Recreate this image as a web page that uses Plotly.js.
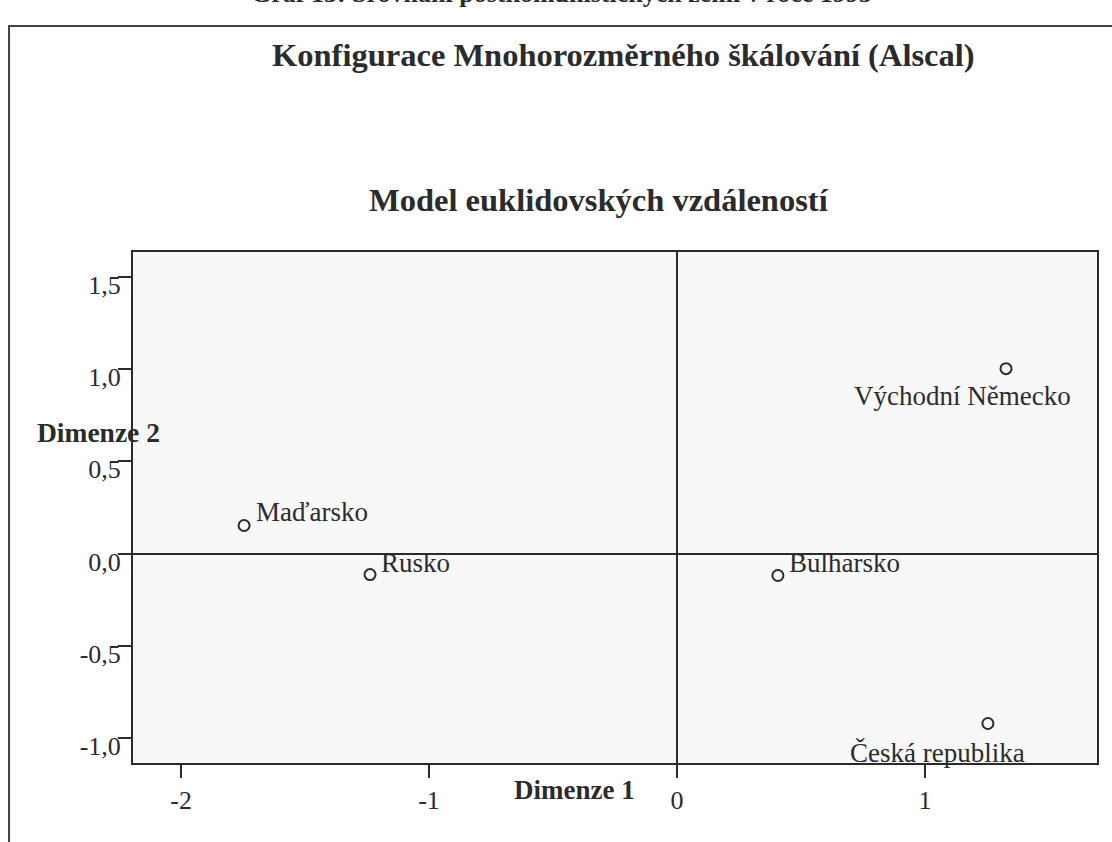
<!DOCTYPE html>
<html>
<head>
<meta charset="utf-8">
<script src="https://cdn.plot.ly/plotly-3.0.1.min.js"></script>
<style>html,body{margin:0;padding:0;background:#fff;}#chart{width:1112px;height:842px;}</style>
</head>
<body>
<div id="chart"></div>
<script>
// Data
const countries = ["Maďarsko", "Rusko", "Bulharsko", "Východní Německo", "Česká republika"];
const dim1 = [-1.746, -1.238, 0.407, 1.327, 1.254];
const dim2 = [0.152, -0.114, -0.119, 1.002, -0.921];
const xTickVals = [-2, -1, 0, 1];
const xTickText = ["-2", "-1", "0", "1"];
const yTickVals = [1.5, 1.0, 0.5, 0.0, -0.5, -1.0];
const yTickText = ["1,5", "1,0", "0,5", "0,0", "-0,5", "-1,0"];

const serif = "Liberation Serif, Times New Roman, serif";
const ink = "#2b2b2b";

// label placement style (per label, offsets in px)
const labelStyle = [
  {xanchor: "left", xshift: 10, yshift: 13},
  {xanchor: "left", xshift: 9, yshift: 12},
  {xanchor: "left", xshift: 9, yshift: 13},
  {xanchor: "center", xshift: -44, yshift: -27},
  {xanchor: "center", xshift: -50, yshift: -29}
];

const trace = {
  x: dim1, y: dim2, mode: "markers", type: "scatter",
  marker: {symbol: "circle-open", size: 11, color: ink, line: {width: 2, color: ink}},
  hoverinfo: "skip", showlegend: false
};

const annotations = countries.map((c, i) => ({
  x: dim1[i], y: dim2[i], xref: "x", yref: "y", text: c, showarrow: false,
  xanchor: labelStyle[i].xanchor, yanchor: "middle",
  xshift: labelStyle[i].xshift, yshift: labelStyle[i].yshift,
  font: {family: serif, size: 27, color: ink}
}));

annotations.push(
  {xref: "paper", yref: "paper", x: 0.509, y: 1.3855, text: "<b>Konfigurace Mnohorozměrného škálování (Alscal)</b>",
   showarrow: false, xanchor: "center", yanchor: "middle", font: {family: serif, size: 32.5, color: ink}},
  {xref: "paper", yref: "paper", x: 0.4834, y: 1.1018, text: "<b>Model euklidovských vzdáleností</b>",
   showarrow: false, xanchor: "center", yanchor: "middle", font: {family: serif, size: 32.5, color: ink}},
  {xref: "paper", yref: "paper", x: -0.0353, y: 0.6477, text: "<b>Dimenze 2</b>",
   showarrow: false, xanchor: "center", yanchor: "middle", font: {family: serif, size: 27.5, color: ink}},
  {xref: "paper", yref: "paper", x: 0.4575, y: -0.0528, text: "<b>Dimenze 1</b>",
   showarrow: false, xanchor: "center", yanchor: "middle", font: {family: serif, size: 27, color: ink}},
  {xref: "paper", yref: "paper", x: 0.444, y: 1.505, text: "<b>Graf 13: Srovnání postkomunistických zemí v roce 1995</b>",
   showarrow: false, xanchor: "center", yanchor: "middle", font: {family: serif, size: 26, color: ink}}
);

const layout = {
  width: 1112, height: 842,
  margin: {l: 133, r: 15, t: 252, b: 79},
  paper_bgcolor: "#ffffff", plot_bgcolor: "#f8f8f8",
  separators: ",.",
  xaxis: {
    range: [-2.194, 1.694], tickvals: xTickVals, ticktext: xTickText,
    ticks: "outside", ticklen: 13, tickwidth: 2, tickcolor: ink,
    showline: true, mirror: true, linecolor: ink, linewidth: 2,
    showgrid: false, zeroline: true, zerolinecolor: ink, zerolinewidth: 2,
    tickfont: {family: serif, size: 26, color: ink}
  },
  yaxis: {
    range: [-1.135, 1.634], tickvals: yTickVals, ticktext: yTickText,
    ticks: "outside", ticklen: 13, tickwidth: 2, tickcolor: ink,
    showline: true, mirror: true, linecolor: ink, linewidth: 2,
    showgrid: false, zeroline: true, zerolinecolor: ink, zerolinewidth: 2,
    ticklabelstandoff: -8, ticklabelshift: 8,
    tickfont: {family: serif, size: 26, color: ink}
  },
  shapes: [
    {type: "rect", xref: "paper", yref: "paper", x0: -0.1286, x1: 1.0166, y0: -0.16, y1: 1.4423,
     line: {color: "#444", width: 2}, fillcolor: "rgba(0,0,0,0)", layer: "below"}
  ],
  annotations: annotations
};

Plotly.newPlot("chart", [trace], layout, {displayModeBar: false, staticPlot: true});
</script>
</body>
</html>
